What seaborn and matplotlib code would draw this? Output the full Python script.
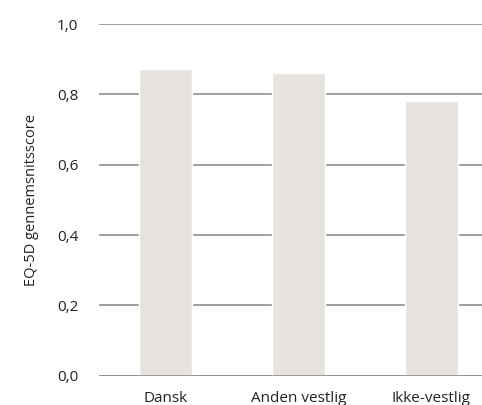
import pandas as pd
import seaborn as sns
import matplotlib.pyplot as plt

# data
groups = ["Dansk", "Anden vestlig", "Ikke-vestlig"]
scores = [0.871, 0.860, 0.782]
yticks = [0.0, 0.2, 0.4, 0.6, 0.8, 1.0]
ytick_labels = ["0,0", "0,2", "0,4", "0,6", "0,8", "1,0"]

df = pd.DataFrame({"Gruppe": groups, "Score": scores})

sns.set_style("white")
plt.rcParams['font.family'] = ['Open Sans', 'DejaVu Sans']

fig = plt.figure(figsize=(4.82, 4.05), dpi=100)
ax = fig.add_axes([99 / 482, 1 - 375.7 / 405, 1 - 99 / 482, 351.7 / 405])

sns.barplot(data=df, x="Gruppe", y="Score", color="#e7e3df", width=0.4,
            saturation=1, ax=ax, zorder=3)

ax.set_ylim(0, 1.0)
ax.set_xlim(-0.5, 2.383)
ax.set_yticks(yticks)
ax.set_yticklabels(ytick_labels)
ax.yaxis.grid(True, color="#8f8f8f", linewidth=1.2, zorder=0)
ax.set_axisbelow(True)
for s in ax.spines.values():
    s.set_visible(False)
ax.axhline(0, color="#8f8f8f", linewidth=1.2, zorder=4)
ax.tick_params(axis="both", length=0, labelsize=11, colors="#222222")
ax.tick_params(axis="y", pad=15)
ax.tick_params(axis="x", pad=11)
ax.set_xlabel("")
ax.set_ylabel("EQ-5D gennemsnitsscore", fontsize=10.5, color="#222222", labelpad=13)

fig.savefig("out.png", dpi=100)
